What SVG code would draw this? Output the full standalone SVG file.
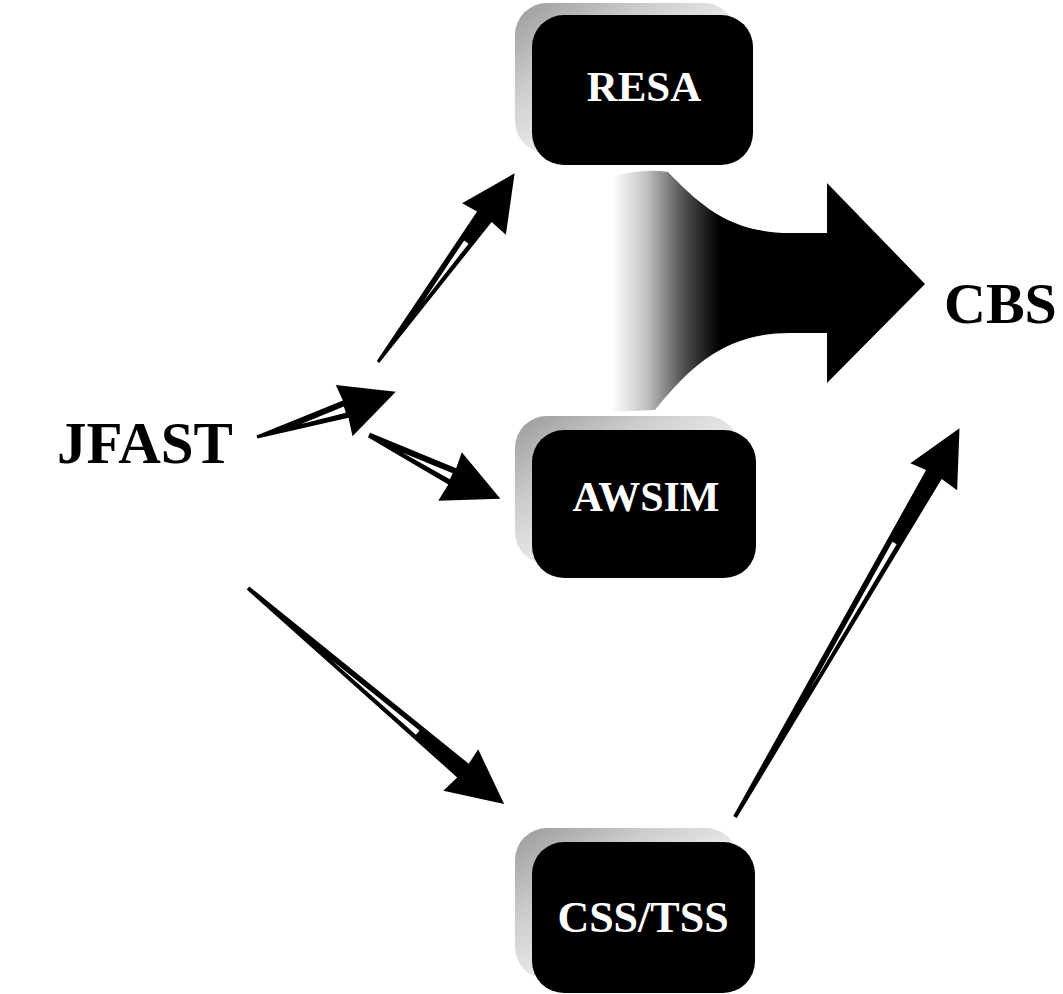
<svg xmlns="http://www.w3.org/2000/svg" width="1063" height="994" viewBox="0 0 1063 994">
  <defs>
    <linearGradient id="shadowGrad" x1="0" y1="0" x2="1" y2="1">
      <stop offset="0" stop-color="#9a9a9a"/>
      <stop offset="0.3" stop-color="#cccccc"/>
      <stop offset="0.6" stop-color="#f0f0f0"/>
      <stop offset="1" stop-color="#ffffff"/>
    </linearGradient>
    <linearGradient id="bigGrad" gradientUnits="userSpaceOnUse" x1="605" y1="0" x2="740" y2="0">
      <stop offset="0.05" stop-color="#ffffff"/>
      <stop offset="0.3" stop-color="#c4c4c4"/>
      <stop offset="0.6" stop-color="#4a4a4a"/>
      <stop offset="0.85" stop-color="#000000"/>
    </linearGradient>
    <style>
      .box { fill: #000000; }
      .shadow { fill: url(#shadowGrad); }
      .label { font-family: "Liberation Serif", "Times New Roman", serif; font-weight: bold; }
      .inbox { fill: #ffffff; text-anchor: middle; }
      .outer { fill: #000000; }
      .arrow { fill: #000000; }
      .slit { fill: #ffffff; }
    </style>
  </defs>
  <rect width="1063" height="994" fill="#ffffff"/>

  <g id="connectors">
    <path id="big-arrow" fill="url(#bigGrad)" d="M608,178 Q640,168 668,172 C700,205 730,233 790,233 L827,233 L827,183 L925,284 L827,383 L827,333 L790,333 C730,333 695,360 655,410 L608,412 Z"/>
    <g id="arrow-jfast-resa" transform="translate(378,362) rotate(-54.1)">
      <path class="arrow" d="M0,-1.5 L180,-8 L178,-25 L233,0 L178,29 L180,10 L0,1.5 Z"/>
      <path class="slit" d="M76,1.2 L149,-1.5 L149,4 Z"/>
    </g>
    <g id="arrow-jfast-mid" transform="translate(257,437) rotate(-18.06)">
      <path class="arrow" d="M0,-1.5 L93,-8 L91,-25 L146,0 L91,29 L93,10 L0,1.5 Z"/>
      <path class="slit" d="M46,1.2 L92,-2 L92,4.5 Z"/>
    </g>
    <g id="arrow-jfast-awsim" transform="translate(369,435) rotate(25.85)">
      <path class="arrow" d="M0,-2.5 L93,-8 L91,-25 L146,0 L91,29 L93,10 L0,2.5 Z"/>
      <path class="slit" d="M38,1.2 L92,-2 L92,4.5 Z"/>
    </g>
    <g id="arrow-jfast-css" transform="translate(248,588) rotate(40.13)">
      <path class="arrow" d="M0,-2 L282,-8 L280,-25 L335,0 L280,29 L282,10 L0,2 Z"/>
      <path class="slit" d="M109,1.2 L223,-1.5 L223,4 Z"/>
    </g>
    <g id="arrow-css-cbs" transform="translate(735,817) rotate(-60)">
      <path class="arrow" d="M0,-2 L396,-8 L394,-25 L449,0 L394,29 L396,10 L0,2 Z"/>
      <path class="slit" d="M147,1.2 L317,-1.2 L317,3.6 Z"/>
    </g>
  </g>

  <g id="node-resa">
    <rect class="shadow" x="515" y="3" width="221" height="150" rx="32"/>
    <rect class="box" x="532" y="15" width="221" height="150" rx="32"/>
    <text class="label inbox" x="644" y="101" font-size="43">RESA</text>
  </g>

  <g id="node-awsim">
    <rect class="shadow" x="515" y="416" width="224" height="148" rx="32"/>
    <rect class="box" x="532" y="430" width="224" height="148" rx="32"/>
    <text class="label inbox" x="646" y="511" font-size="42">AWSIM</text>
  </g>

  <g id="node-css">
    <rect class="shadow" x="515" y="828" width="223" height="151" rx="32"/>
    <rect class="box" x="532" y="842" width="223" height="151" rx="32"/>
    <text class="label inbox" x="643" y="932" font-size="44">CSS/TSS</text>
  </g>

  <g id="node-jfast">
    <text class="label outer" x="57" y="463" font-size="59">JFAST</text>
  </g>

  <g id="node-cbs">
    <text class="label outer" x="944" y="323" font-size="58">CBS</text>
  </g>
</svg>
